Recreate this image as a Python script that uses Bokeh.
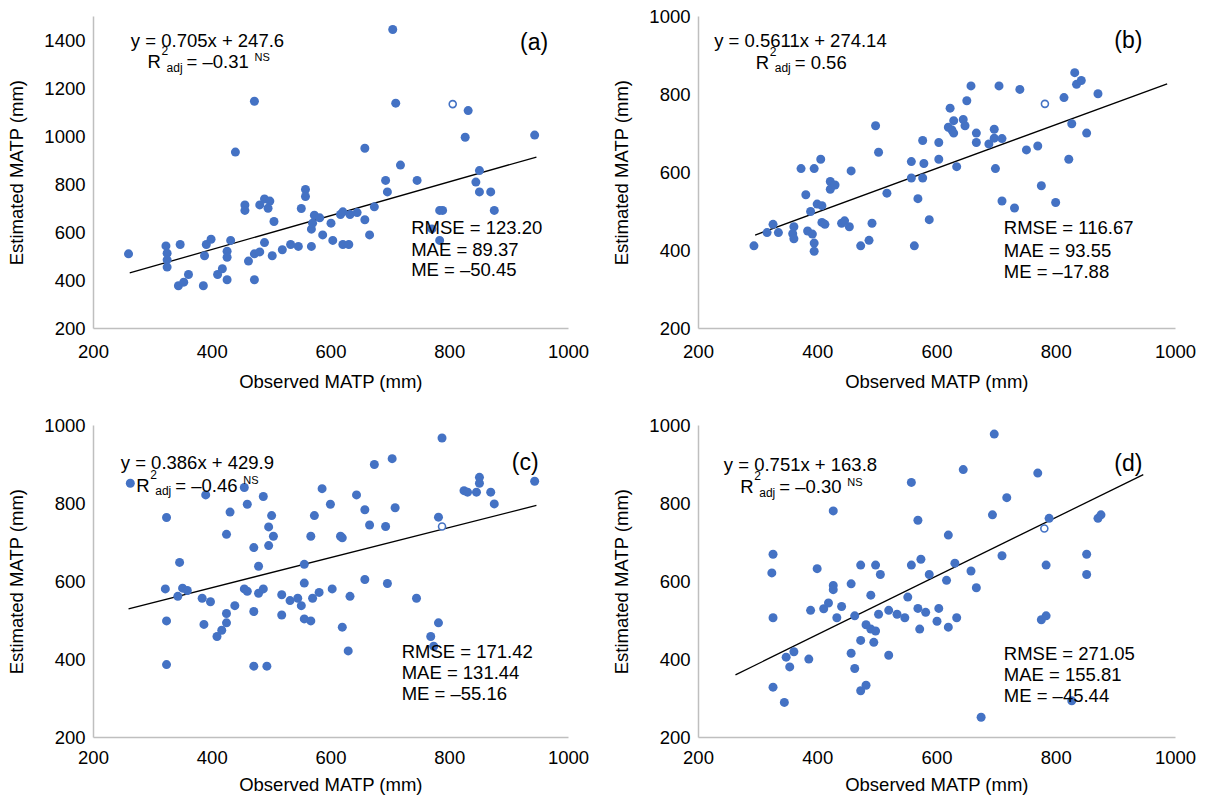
from bokeh.plotting import figure
from bokeh.models import Range1d, Label, FixedTicker
from bokeh.layouts import column, row
from bokeh.embed import file_html
from bokeh.resources import INLINE

FONT = "Liberation Sans"
BLUE = "#4472C4"
FS = "18.5px"

# ---------------- data ----------------
x_ticks = [200, 400, 600, 800, 1000]

# Panel (a)
a_obs = [259, 322, 324, 324, 324, 346, 343, 352, 360, 385, 387, 390, 398, 409, 417, 425, 425, 425, 431,
         439, 455, 455, 461, 471, 471, 471, 480, 480, 488, 497, 494, 488, 501, 504, 518, 532, 545, 550,
         557, 557, 567, 567, 569, 572, 581, 586, 600, 603, 616, 620, 620, 630, 632, 644, 657, 657, 665,
         673, 692, 695, 704, 709, 717, 745, 783, 788, 783, 770, 831, 826, 850, 844, 850, 869, 875, 943]
a_est = [511, 544, 514, 486, 456, 550, 378, 393, 425, 378, 503, 550, 572, 425, 449, 403, 522, 497, 567,
         935, 715, 692, 481, 1147, 403, 511, 519, 715, 740, 731, 701, 558, 503, 646, 528, 550, 542, 700,
         779, 750, 542, 614, 639, 672, 661, 590, 639, 567, 675, 686, 550, 550, 675, 683, 653, 951, 590,
         707, 817, 769, 1446, 1139, 881, 817, 692, 692, 567, 615, 1108, 997, 858, 810, 769, 769, 692, 1006]
a_open_obs = [805]
a_open_est = [1135]
a_fit = (0.705, 247.6)
a_fit_x = [261, 946]
a_y_ticks = [200, 400, 600, 800, 1000, 1200, 1400]

# Panel (b)
b_obs = [293, 315, 325, 334, 360, 358, 360, 372, 380, 383, 391, 394, 394, 394, 388, 399, 407, 405, 407,
         412, 421, 421, 429, 440, 445, 453, 456, 472, 486, 491, 497, 502, 516, 557, 557, 562, 568, 576,
         578, 576, 587, 603, 603, 622, 619, 625, 628, 628, 633, 644, 647, 650, 657, 666, 666, 687, 696,
         696, 709, 698, 704, 709, 730, 739, 750, 769, 775, 799, 813, 821, 826, 831, 834, 842, 851, 870]
b_est = [412, 446, 467, 446, 461, 443, 430, 610, 543, 450, 442, 610, 419, 398, 500, 519, 515, 634, 472,
         467, 577, 557, 568, 470, 476, 461, 604, 412, 426, 470, 720, 652, 547, 628, 586, 412, 533, 682,
         623, 586, 479, 677, 634, 765, 716, 709, 733, 701, 615, 736, 720, 784, 822, 701, 677, 673, 711,
         688, 687, 610, 822, 527, 509, 813, 658, 668, 566, 523, 792, 634, 725, 856, 826, 836, 701, 802]
b_open_obs = [781]
b_open_est = [776]
b_fit = (0.5611, 274.14)
b_fit_x = [295, 986]

# Panel (c)
c_obs = [262, 323, 321, 323, 323, 342, 345, 350, 358, 383, 386, 389, 397, 408, 416, 424, 424, 424, 430,
         438, 454, 454, 459, 459, 470, 470, 470, 478, 478, 486, 486, 492, 495, 495, 500, 503, 517, 517,
         531, 544, 550, 555, 555, 555, 566, 566, 569, 572, 580, 585, 599, 602, 616, 619, 619, 629, 632,
         643, 657, 657, 665, 673, 692, 695, 703, 708, 744, 768, 773, 781, 781, 787, 824, 830, 845, 850,
         850, 869, 875, 943]
c_est = [852, 764, 581, 499, 387, 562, 649, 583, 577, 557, 490, 822, 548, 459, 475, 494, 518, 721, 778,
         538, 841, 581, 575, 798, 687, 523, 383, 639, 570, 581, 818, 383, 740, 692, 769, 716, 566, 514,
         551, 557, 538, 644, 596, 504, 499, 716, 557, 769, 572, 838, 798, 581, 716, 712, 483, 422, 562,
         822, 784, 605, 745, 900, 741, 595, 915, 789, 557, 459, 434, 494, 765, 968, 833, 829, 829, 852,
         867, 829, 799, 857]
c_open_obs = [787]
c_open_est = [741]
c_fit = (0.386, 429.9)
c_fit_x = [259, 946]

# Panel (d)
d_obs = [325, 323, 325, 325, 344, 347, 353, 360, 385, 388, 399, 410, 418, 426, 426, 426, 432, 440, 456,
         456, 462, 462, 472, 472, 472, 481, 481, 489, 489, 497, 497, 494, 502, 505, 519, 519, 533, 546,
         551, 557, 557, 568, 568, 571, 573, 581, 587, 600, 603, 616, 619, 619, 630, 633, 644, 657, 666,
         674, 693, 696, 709, 717, 769, 775, 783, 783, 788, 826, 851, 851, 870, 875]
d_est = [670, 622, 507, 329, 290, 406, 381, 420, 401, 526, 633, 530, 545, 781, 590, 579, 507, 536, 594,
         416, 512, 377, 642, 449, 320, 334, 489, 565, 478, 642, 473, 444, 516, 618, 526, 411, 516, 507,
         560, 642, 854, 757, 531, 478, 657, 521, 618, 498, 531, 603, 719, 483, 647, 507, 887, 627, 584,
         252, 771, 978, 666, 815, 878, 502, 512, 642, 762, 294, 670, 618, 762, 771]
d_open_obs = [780]
d_open_est = [736]
d_fit = (0.751, 163.8)
d_fit_x = [262, 946]

bcd_y_ticks = [200, 400, 600, 800, 1000]

LIFT = 6  # pixels to raise the baseline-anchored annotation texts


def label(p, x, y, text, size=FS, align="left", baseline="alphabetic", xo=0, yo=0):
    p.add_layout(Label(x=x, y=y, text=text, x_offset=xo, y_offset=yo,
                       text_font=FONT, text_font_size=size, text_color="#000000",
                       text_align=align, text_baseline=baseline))


def make_panel(obs, est, oobs, oest, fit, fit_x, y_max, y_ticks,
               eq, eq_pos, r2, ns, r2_pos, letter, letter_pos, stats, stats_pos,
               borders, frame_h, xstand, xlab_stand):
    left, right, top, bottom = borders
    p = figure(frame_width=475 if left < 94 else 477, frame_height=frame_h,
               x_range=Range1d(200, 1000), y_range=Range1d(200, y_max),
               min_border_left=left, min_border_right=right,
               min_border_top=top, min_border_bottom=bottom,
               output_backend="svg", toolbar_location=None)
    p.outline_line_color = None
    p.xgrid.visible = False
    p.ygrid.visible = False
    p.background_fill_color = "white"
    p.border_fill_color = "white"

    for ax, ticks in ((p.xaxis, x_ticks), (p.yaxis, y_ticks)):
        ax.ticker = FixedTicker(ticks=ticks)
        ax.axis_line_color = "#bfbfbf"
        ax.axis_line_width = 1.5
        ax.major_tick_line_color = None
        ax.minor_tick_line_color = None
        ax.major_tick_out = 0
        ax.major_tick_in = 0
        ax.major_label_text_font = FONT
        ax.major_label_text_font_size = FS
        ax.major_label_text_color = "#000000"
        ax.axis_label_text_font = FONT
        ax.axis_label_text_font_size = FS
        ax.axis_label_text_font_style = "normal"
        ax.axis_label_text_color = "#000000"
    p.xaxis.axis_label = "Observed MATP (mm)"
    p.yaxis.axis_label = "Estimated MATP (mm)"
    p.xaxis.major_label_standoff = xstand
    p.xaxis.axis_label_standoff = xlab_stand
    p.yaxis.major_label_standoff = 8
    p.yaxis.axis_label_standoff = 14

    slope, icpt = fit
    p.line(fit_x, [slope * v + icpt for v in fit_x], line_color="black", line_width=1.3)
    p.scatter(obs, est, size=9, fill_color=BLUE, line_color=BLUE, line_width=0)
    p.scatter(oobs, oest, size=7, fill_color="white", line_color=BLUE, line_width=1.6)

    label(p, eq_pos[0], eq_pos[1], eq, align="center", yo=LIFT)
    rx, ry = r2_pos
    label(p, rx, ry, "R", yo=LIFT)
    label(p, rx, ry, "2", size="12px", xo=14, yo=11 + LIFT)
    label(p, rx, ry, "adj", size="12px", xo=19, yo=-6 + LIFT)
    label(p, rx, ry, r2, xo=39, yo=LIFT)
    if ns:
        label(p, rx, ry, "NS", size="11px", xo=107, yo=5 + LIFT)
    label(p, letter_pos[0], letter_pos[1], letter, size="23px", align="center", baseline="middle")
    sx, sy = stats_pos
    for i, s in enumerate(stats):
        label(p, sx, sy[i], s, baseline="middle")
    return p


pa = make_panel(a_obs, a_est, a_open_obs, a_open_est, a_fit, a_fit_x, 1500, a_y_ticks,
                "y = 0.705x + 247.6", (392, 1375), "= \u20130.31", True, (291, 1287),
                "(a)", (942, 1392),
                ["RMSE = 123.20", "MAE = 89.37", "ME = \u201350.45"], (735, [621, 529, 446]),
                (93, 35, 16, 72), 312, 16, 10)
pb = make_panel(b_obs, b_est, b_open_obs, b_open_est, b_fit, b_fit_x, 1000, bcd_y_ticks,
                "y = 0.5611x + 274.14", (371, 923), "= 0.56", False, (296, 867),
                "(b)", (921, 939),
                ["RMSE = 116.67", "MAE = 93.55", "ME = \u201317.88"], (712, [458, 401, 347]),
                (95, 30, 16, 72), 312, 16, 10)
pc = make_panel(c_obs, c_est, c_open_obs, c_open_est, c_fit, c_fit_x, 1000, bcd_y_ticks,
                "y = 0.386x + 429.9", (375, 889), "= \u20130.46", True, (272, 831),
                "(c)", (927, 907),
                ["RMSE = 171.42", "MAE = 131.44", "ME = \u201355.16"], (719, [420, 366, 312]),
                (93, 35, 25, 62), 312, 13, 7)
pd_ = make_panel(d_obs, d_est, d_open_obs, d_open_est, d_fit, d_fit_x, 1000, bcd_y_ticks,
                 "y = 0.751x + 163.8", (371, 885), "= \u20130.30", True, (270, 828),
                 "(d)", (921, 903),
                 ["RMSE = 271.05", "MAE = 155.81", "ME = \u201345.44"], (712, [415, 361, 307]),
                 (95, 30, 25, 62), 312, 13, 7)

layout = column(row(pa, pb), row(pc, pd_))
open("out.html", "w").write(file_html(layout, INLINE))
